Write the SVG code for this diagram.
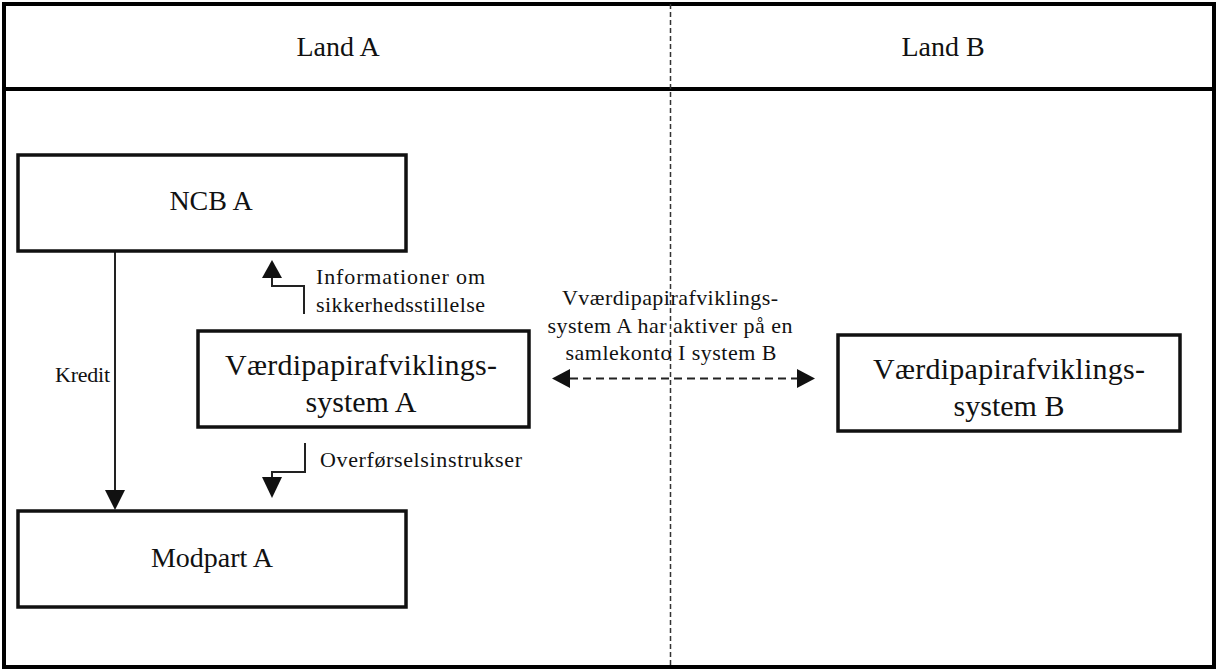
<svg xmlns="http://www.w3.org/2000/svg" width="1218" height="671" viewBox="0 0 1218 671">
<defs>
<style>
.frame{fill:none;stroke:#000;stroke-width:4}
.box{fill:#fff;stroke:#111;stroke-width:3.5}
.big{font-family:"Liberation Serif","Times New Roman",serif;font-size:28px;fill:#111;text-anchor:middle}
.vps{font-size:30px}
.small{font-family:"Liberation Serif","Times New Roman",serif;font-size:22px;fill:#111}
.line{fill:none;stroke:#222;stroke-width:2}
.dash{fill:none;stroke:#222;stroke-width:2;stroke-dasharray:8 5}
</style>
</defs>
<rect width="1218" height="671" fill="#fff"/>
<g id="frame">
<rect class="frame" x="4" y="4" width="1210" height="663"/>
<line class="frame" x1="4" y1="89" x2="1214" y2="89"/>
<line x1="670.5" y1="4" x2="670.5" y2="667" stroke="#333" stroke-width="1.5" stroke-dasharray="5 3"/>
<text class="big" x="338" y="56">Land A</text>
<text class="big" x="943" y="56">Land B</text>
</g>
<g id="connectors">
<g id="kredit">
<line x1="115" y1="251" x2="115" y2="490" class="line"/>
<path d="M105,490 L125,490 L115,510 z" fill="#111"/>
<text class="small" x="55" y="382" textLength="55">Kredit</text>
</g>
<g id="info">
<polyline class="line" points="304,314 304,286 272,286 272,277"/>
<path d="M262,278 L282,278 L272,260 z" fill="#111"/>
<text class="small" x="316" y="284" textLength="169">Informationer om</text>
<text class="small" x="316" y="312" textLength="169">sikkerhedsstillelse</text>
</g>
<g id="overf">
<polyline class="line" points="305,443 305,472 272,472 272,478"/>
<path d="M262,477 L282,477 L272,498 z" fill="#111"/>
<text class="small" x="320" y="467" textLength="202">Overførselsinstrukser</text>
</g>
<g id="samlekonto">
<line x1="570" y1="378.5" x2="797" y2="378.5" class="dash"/>
<path d="M552,378.5 L570,369 L570,388 z" fill="#111"/>
<path d="M815,378.5 L797,369 L797,388 z" fill="#111"/>
<text class="small" x="670" y="305" text-anchor="middle" textLength="216">Vværdipapirafviklings-</text>
<text class="small" x="670" y="333" text-anchor="middle" textLength="245">system A har aktiver på en</text>
<text class="small" x="671" y="360" text-anchor="middle" textLength="211">samlekonto I system B</text>
</g>
</g>
<g id="ncb-a">
<rect class="box" x="18" y="155" width="388" height="96"/>
<text class="big" x="211" y="210">NCB A</text>
</g>
<g id="vps-a">
<rect class="box" x="198" y="331" width="331" height="96"/>
<text class="big vps" x="361" y="375" textLength="272">Værdipapirafviklings-</text>
<text class="big vps" x="361" y="412">system A</text>
</g>
<g id="vps-b">
<rect class="box" x="838" y="335" width="342" height="96"/>
<text class="big vps" x="1009" y="379" textLength="272">Værdipapirafviklings-</text>
<text class="big vps" x="1009" y="416">system B</text>
</g>
<g id="modpart-a">
<rect class="box" x="18" y="511" width="388" height="96"/>
<text class="big" x="212" y="567">Modpart A</text>
</g>
</svg>
